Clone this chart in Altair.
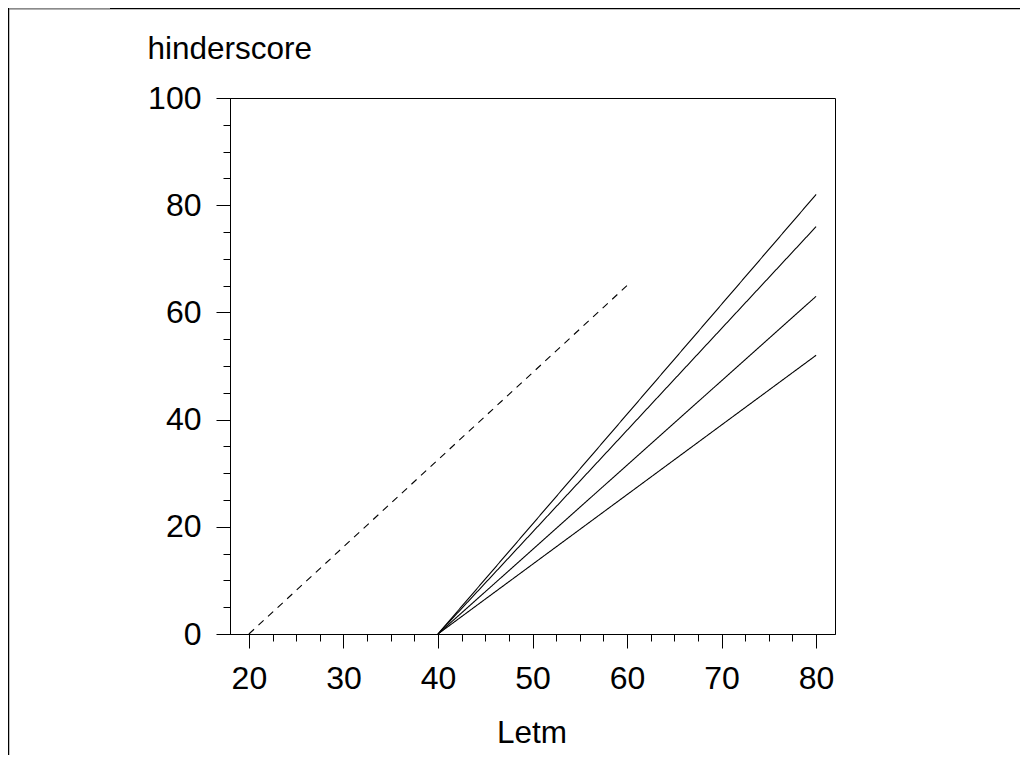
import altair as alt
import pandas as pd

# Data
series = ["s1", "s2", "s3", "s4", "ref"]
letm_start = [40, 40, 40, 40, 20]
letm_end = [80, 80, 80, 80, 60]
score_start = [0, 0, 0, 0, 0]
score_end = [82, 76, 63, 52, 65]
line_style = ["solid", "solid", "solid", "solid", "dashed"]

x_major = [20, 30, 40, 50, 60, 70, 80]
x_minor = [20 + 2.5 * i for i in range(25)]
y_major = [0, 20, 40, 60, 80, 100]
y_minor = [5 * i for i in range(21)]

rows = []
for s, x0, x1, y0, y1, st in zip(series, letm_start, letm_end, score_start, score_end, line_style):
    rows.append({"series": s, "Letm": x0, "score": y0, "style": st, "order": 0})
    rows.append({"series": s, "Letm": x1, "score": y1, "style": st, "order": 1})
df = pd.DataFrame(rows)

W, H = 605, 536
FONT = "Liberation Sans"
LABEL = 32
TITLE = 31.5

xscale = alt.Scale(domain=[18, 82], nice=False, zero=False)
yscale = alt.Scale(domain=[0, 100], nice=False, zero=False)

base = alt.Chart(df)

lines = base.mark_line(color="black", strokeWidth=1.1).encode(
    x=alt.X("Letm:Q", scale=xscale, axis=alt.Axis(
        values=x_major, tickSize=14, tickColor="black", domainColor="black",
        labelFont=FONT, labelFontSize=LABEL, labelColor="black", labelPadding=15,
        labelFlush=False,
        title="Letm", titleFont=FONT, titleFontSize=TITLE, titleFontWeight="normal",
        titleColor="black", titleBaseline="alphabetic", titleY=108, titleX=W / 2 - 1,
        grid=False)),
    y=alt.Y("score:Q", scale=yscale, axis=alt.Axis(
        values=y_major, tickSize=14, tickColor="black", domainColor="black",
        labelFont=FONT, labelFontSize=LABEL, labelColor="black", labelPadding=15,
        labelFlush=False,
        title="hinderscore", titleFont=FONT, titleFontSize=TITLE, titleFontWeight="normal",
        titleColor="black", titleAngle=0, titleAlign="left", titleBaseline="alphabetic",
        titleX=-83, titleY=-40, grid=False)),
    detail="series:N",
    order="order:Q",
    strokeDash=alt.StrokeDash("style:N", scale=alt.Scale(domain=["solid", "dashed"],
                                                          range=[[1, 0], [7, 6]]), legend=None),
)

minor = base.mark_line(opacity=0).encode(
    x=alt.X("Letm:Q", scale=xscale, axis=alt.Axis(
        orient="bottom", values=x_minor, tickSize=7, tickColor="black", labels=False,
        domain=False, title=None, grid=False)),
    y=alt.Y("score:Q", scale=yscale, axis=alt.Axis(
        orient="left", values=y_minor, tickSize=7, tickColor="black", labels=False,
        domain=False, title=None, grid=False)),
    detail="series:N",
)

one = pd.DataFrame({"k": [0]})
frame_left = alt.Chart(one).mark_rule(color="black", strokeWidth=1.5).encode(
    x=alt.value(-221.5), y=alt.value(-89.5), y2=alt.value(H + 200))
frame_top = alt.Chart(one).mark_rule(color="black", strokeWidth=1.3).encode(
    x=alt.value(-222), x2=alt.value(W + 300), y=alt.value(-89.5))
frame_top_gray = alt.Chart(one).mark_rule(color="#8a8a8a", strokeWidth=1.3).encode(
    x=alt.value(-221), x2=alt.value(-120), y=alt.value(-89.5))

chart = alt.layer(lines, minor, frame_left, frame_top, frame_top_gray).resolve_scale(
    x="independent", y="independent"
).properties(
    width=W, height=H,
    background="white",
    autosize=alt.AutoSizeParams(type="none"),
    padding={"left": 222, "top": 90, "right": 185, "bottom": 121},
).configure_view(stroke="black", strokeWidth=1)

chart.save("out.html", embed_options={"renderer": "svg", "actions": False})
